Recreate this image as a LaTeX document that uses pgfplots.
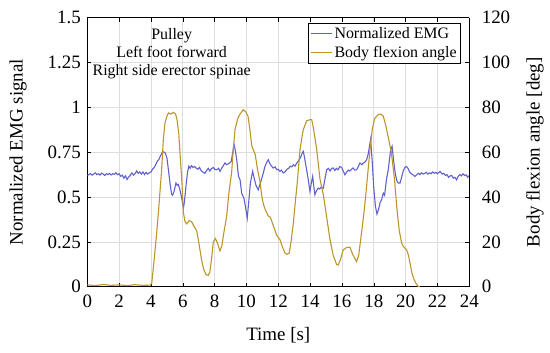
\documentclass[border=0pt]{standalone}
\usepackage{fontspec}
\setmainfont{Liberation Serif}
\usepackage{pgfplots}
\pgfplotsset{compat=1.18}
\definecolor{emg}{RGB}{96,96,206}
\definecolor{ang}{RGB}{188,150,40}
\definecolor{gridc}{RGB}{222,222,222}

\begin{document}
\begin{tikzpicture}
\pgfplotsset{
  every axis/.append style={
    scale only axis, width=382bp, height=269bp,
    xmin=0, xmax=24,
    /pgf/number format/assume math mode=true,
    tick label style={font=\fontsize{19}{22}\selectfont},
    label style={font=\fontsize{19}{22}\selectfont},
    tick style={black, thin},
    major tick length=4bp,
    axis line style={black, thin},
  }
}
\begin{axis}[
  ymin=0, ymax=1.5,
  ytick={0,0.25,0.5,0.75,1,1.25,1.5},
  yticklabels={0,0.25,0.5,0.75,1,1.25,1.5},
  xtick={0,2,4,6,8,10,12,14,16,18,20,22,24},
  grid=major, grid style={gridc, line width=0.6pt},
  axis y line*=left,
  xticklabel style={yshift=-5bp},
  yticklabel style={xshift=-3bp},
  xlabel={Time [s]}, ylabel={Normalized EMG signal},
  xlabel style={at={(axis description cs:0.5,-0.18)}, anchor=center},
  ylabel style={at={(axis description cs:-0.181,0.5)}, anchor=center},
]
\addplot[emg, line width=1.1pt] coordinates {
(0.0,0.62)(0.1,0.625)(0.2,0.63)(0.3,0.622)(0.4,0.628)(0.5,0.635)(0.6,0.625)(0.7,0.63)(0.8,0.622)(0.9,0.633)
(1.0,0.628)(1.1,0.62)(1.2,0.63)(1.3,0.625)(1.4,0.632)(1.5,0.623)(1.6,0.63)(1.7,0.627)(1.8,0.635)(1.9,0.625)
(2.0,0.63)(2.1,0.615)(2.2,0.622)(2.3,0.605)(2.4,0.618)(2.5,0.598)(2.6,0.612)(2.7,0.62)(2.8,0.635)(2.9,0.622)
(3.0,0.63)(3.1,0.645)(3.2,0.632)(3.3,0.64)(3.4,0.628)(3.5,0.64)(3.6,0.625)(3.7,0.638)(3.8,0.628)(3.9,0.635)
(4.0,0.64)(4.1,0.655)(4.2,0.665)(4.3,0.68)(4.4,0.70)(4.5,0.71)(4.6,0.73)(4.7,0.748)(4.8,0.752)(4.9,0.745)
(5.0,0.72)(5.1,0.65)(5.2,0.575)(5.3,0.515)(5.36,0.51)(5.45,0.53)(5.57,0.578)(5.65,0.565)(5.72,0.57)(5.82,0.54)
(5.92,0.50)(6.04,0.44)(6.1,0.47)(6.2,0.56)(6.3,0.64)(6.38,0.672)(6.46,0.66)(6.55,0.675)(6.65,0.665)(6.75,0.67)
(6.85,0.66)(6.95,0.655)(7.05,0.665)(7.15,0.648)(7.25,0.64)(7.39,0.632)(7.5,0.648)(7.6,0.66)(7.7,0.645)(7.8,0.658)
(7.92,0.665)(8.0,0.655)(8.13,0.652)(8.25,0.66)(8.34,0.643)(8.45,0.662)(8.55,0.675)(8.65,0.69)(8.75,0.68)(8.85,0.685)
(8.95,0.69)(9.05,0.70)(9.12,0.74)(9.22,0.792)(9.3,0.76)(9.39,0.708)(9.5,0.615)(9.6,0.596)(9.7,0.52)(9.84,0.494)
(9.95,0.44)(10.05,0.382)(10.15,0.48)(10.25,0.58)(10.39,0.643)(10.5,0.60)(10.6,0.565)(10.74,0.54)(10.85,0.57)(10.95,0.60)
(11.06,0.634)(11.16,0.67)(11.28,0.695)(11.37,0.708)(11.45,0.69)(11.55,0.675)(11.68,0.662)(11.8,0.668)(11.9,0.652)(12.0,0.655)
(12.1,0.643)(12.2,0.65)(12.31,0.634)(12.42,0.64)(12.55,0.655)(12.65,0.66)(12.75,0.672)(12.85,0.668)(12.94,0.68)(13.05,0.672)
(13.15,0.688)(13.25,0.70)(13.4,0.72)(13.5,0.745)(13.57,0.755)(13.65,0.72)(13.78,0.652)(13.88,0.60)(13.99,0.531)(14.08,0.58)
(14.16,0.615)(14.23,0.56)(14.3,0.513)(14.4,0.535)(14.51,0.55)(14.6,0.545)(14.7,0.555)(14.83,0.55)(14.95,0.61)(15.04,0.652)
(15.14,0.66)(15.25,0.645)(15.35,0.66)(15.45,0.662)(15.55,0.648)(15.65,0.66)(15.75,0.652)(15.87,0.67)(15.98,0.665)(16.08,0.645)
(16.19,0.624)(16.3,0.64)(16.4,0.65)(16.5,0.645)(16.6,0.655)(16.7,0.662)(16.8,0.65)(16.92,0.652)(17.0,0.665)(17.13,0.69)
(17.25,0.68)(17.35,0.69)(17.45,0.695)(17.55,0.708)(17.65,0.74)(17.8,0.82)(17.9,0.70)(18.0,0.55)(18.1,0.45)(18.2,0.405)
(18.3,0.43)(18.4,0.47)(18.49,0.485)(18.6,0.522)(18.68,0.51)(18.8,0.60)(18.91,0.652)(19.0,0.72)(19.06,0.764)(19.15,0.783)
(19.25,0.70)(19.35,0.63)(19.45,0.59)(19.54,0.578)(19.65,0.578)(19.75,0.61)(19.85,0.645)(19.95,0.665)(20.06,0.67)(20.15,0.66)
(20.25,0.64)(20.35,0.63)(20.45,0.625)(20.58,0.615)(20.7,0.625)(20.8,0.632)(20.9,0.625)(21.0,0.635)(21.1,0.628)(21.2,0.632)
(21.3,0.638)(21.4,0.628)(21.5,0.635)(21.6,0.63)(21.7,0.64)(21.8,0.632)(21.9,0.638)(22.0,0.63)(22.16,0.643)(22.3,0.628)
(22.4,0.632)(22.5,0.62)(22.6,0.625)(22.7,0.61)(22.8,0.618)(22.9,0.62)(23.0,0.605)(23.1,0.61)(23.2,0.596)(23.3,0.615)
(23.4,0.625)(23.5,0.618)(23.6,0.63)(23.7,0.62)(23.8,0.624)(23.9,0.61)(24.0,0.62)
};
\node[align=center, font=\fontsize{16}{18.3}\selectfont] at (axis cs:5.3,1.30)
  {Pulley\\Left foot forward\\Right side erector spinae};
\coordinate (bbsw) at (axis description cs:-0.2285,-0.2428);
\coordinate (bbne) at (axis description cs:1.2113,1.0658);
\end{axis}
\begin{axis}[
  ymin=0, ymax=120,
  ytick={0,20,40,60,80,100,120},
  axis y line*=right, axis x line=none,
  yticklabel style={xshift=9bp},
  ylabel={Body flexion angle [deg]},
  ylabel style={at={(axis description cs:1.172,0.5)}, anchor=center},
  legend style={at={(rel axis cs:0.978,0.979)}, anchor=north east, draw=black, thin,
    font=\fontsize{16}{18}\selectfont, inner sep=2pt, row sep=2pt,
    legend cell align=left},
  legend image code/.code={\draw[#1] (0bp,0bp) -- (21bp,0bp);},
]
\addlegendimage{emg, line width=1.1pt}
\addlegendentry{Normalized EMG}
\addplot[ang, line width=1.1pt] coordinates {
(0,0.8)(0.5,0.5)(1,1.0)(1.5,0.6)(2,0.8)(2.5,0.5)(3,0.9)(3.5,0.6)(3.95,0.7)
(4.05,1.5)(4.2,12)(4.36,24)(4.5,36)(4.67,52)(4.78,66)(4.88,73)(5.0,76)(5.1,77.5)(5.25,77)(5.4,77.8)(5.55,77)
(5.65,74)(5.75,68)(5.85,57)(5.95,46)(6.04,33)(6.14,29)(6.25,28)(6.4,29.5)(6.56,29)(6.7,27)(6.87,25)(7.0,20)
(7.18,12)(7.3,8)(7.45,5.5)(7.6,5)(7.7,6.5)(7.8,12)(7.92,20)(8.05,21.5)(8.2,19)(8.33,16)(8.45,18)(8.6,25)
(8.75,31)(8.9,42)(9.07,51)(9.17,61)(9.28,70)(9.45,75)(9.6,77)(9.8,79)(9.95,78)(10.1,76)(10.22,70)(10.33,63)
(10.43,61)(10.55,59)(10.7,52)(10.85,47)(10.95,41)(11.06,37)(11.2,34)(11.37,31.5)(11.5,31)(11.6,29)(11.75,26)
(11.9,23)(12.1,21)(12.25,18)(12.42,15)(12.55,14.5)(12.69,15)(12.8,20)(12.94,28)(13.1,40)(13.2,47)(13.36,61)
(13.47,66)(13.57,70)(13.78,74)(14.0,74.5)(14.1,74.5)(14.2,71)(14.4,62)(14.62,48)(14.83,41)(15.04,31)(15.25,21)
(15.45,14)(15.66,10)(15.77,9.7)(15.9,12)(16.08,16.4)(16.3,17.5)(16.5,17.6)(16.7,14)(16.92,11.2)(17.05,14)
(17.24,24.5)(17.4,34)(17.55,45)(17.76,61)(17.9,70)(18.05,75)(18.28,76.8)(18.45,77)(18.6,76)(18.75,72)
(18.9,67)(19.1,60)(19.3,48)(19.45,35)(19.6,25)(19.75,19.5)(19.86,17.9)(20.07,16.4)(20.18,14)(20.28,10.4)
(20.4,6)(20.5,3.7)(20.65,1.5)(20.8,0)(20.9,0)
};
\addlegendentry{Body flexion angle}
\end{axis}
\path (bbsw) rectangle (bbne);
\end{tikzpicture}
\end{document}
